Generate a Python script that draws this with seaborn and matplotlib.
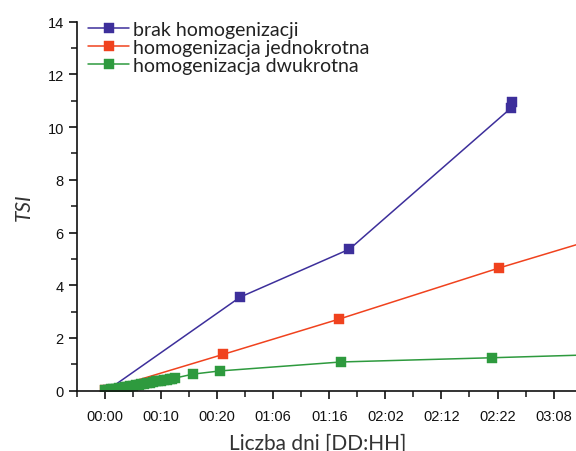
import matplotlib
matplotlib.use("Agg")
import matplotlib.pyplot as plt
import seaborn as sns
import pandas as pd
from matplotlib.ticker import MultipleLocator, FixedLocator

sns.set_style("ticks")
plt.rcParams['font.family'] = ['Liberation Sans', 'DejaVu Sans']

# hours since start
blue_x = [0.5, 24.1, 43.6, 72.4, 72.5]
blue_y = [0.03, 3.55, 5.37, 10.72, 10.95]

red_x = [0.0, 21.1, 41.8, 70.2, 96.0]
red_y = [0.03, 1.38, 2.72, 4.65, 6.30]

green_x = [0.0, 0.5, 1.0, 1.5, 2.0, 2.5, 3.0, 3.5, 4.0, 4.5, 5.0, 5.5, 6.0, 6.5,
           7.0, 7.5, 8.0, 8.5, 9.0, 9.5, 10.0, 10.5, 11.0, 11.5, 12.0, 12.5,
           15.7, 20.5, 42.1, 69.0, 96.0]
green_y = [0.02, 0.04, 0.05, 0.07, 0.08, 0.10, 0.12, 0.13, 0.15, 0.17, 0.19, 0.21,
           0.23, 0.25, 0.27, 0.29, 0.31, 0.33, 0.35, 0.36, 0.38, 0.40, 0.42, 0.44,
           0.46, 0.48, 0.63, 0.75, 1.09, 1.25, 1.42]

labels = ["brak homogenizacji", "homogenizacja jednokrotna", "homogenizacja dwukrotna"]
colors = ["#3d2f9b", "#f0421e", "#2e9a3e"]
xtick_pos = [0, 10, 20, 30, 40, 50, 60, 70, 80]
xtick_labels = ["00:00", "00:10", "00:20", "01:06", "01:16", "02:02", "02:12", "02:22", "03:08"]

fig = plt.figure(figsize=(5.76, 4.52), dpi=100)
ax = fig.add_axes([0.1337, 0.1334, 0.8663, 0.8166])

series = [(blue_x, blue_y), (red_x, red_y), (green_x, green_y)]
for (xs, ys), lab, col in zip(series, labels, colors):
    df = pd.DataFrame({"x": xs, "y": ys})
    sns.lineplot(data=df, x="x", y="y", ax=ax, sort=False, estimator=None,
                 color=col, linewidth=1.1, marker="s", markersize=6.8,
                 markeredgecolor=col, markeredgewidth=0.3, label=lab)

ax.set_xlim(-5, 84)
ax.set_ylim(0, 14)
ax.xaxis.set_major_locator(FixedLocator(xtick_pos))
ax.set_xticklabels(xtick_labels)
ax.xaxis.set_minor_locator(FixedLocator([-5, 5, 15, 25, 35, 45, 55, 65, 75]))
ax.yaxis.set_major_locator(MultipleLocator(2))
ax.yaxis.set_minor_locator(MultipleLocator(1))
ax.tick_params(axis="both", which="major", direction="out", length=6, width=1.2,
               labelsize=10.5, colors="#111111")
ax.tick_params(axis="both", which="minor", direction="out", length=4, width=1.2)
ax.tick_params(axis="x", pad=7)

for s in ["top", "right"]:
    ax.spines[s].set_visible(False)
for s in ["left", "bottom"]:
    ax.spines[s].set_linewidth(1.2)
    ax.spines[s].set_color("#111111")

ax.set_xlabel("Liczba dni [DD:HH]", family=["Lato", "DejaVu Sans"], fontsize=15,
              color="#333333", labelpad=7)
ax.xaxis.label.set_x(0.482)
ax.set_ylabel("TSI", family=["Lato", "DejaVu Sans"], fontsize=15, style="italic",
              color="#333333", labelpad=10)

leg = ax.legend(loc="upper left", bbox_to_anchor=(0.153, 0.952),
                bbox_transform=fig.transFigure, frameon=False,
                prop={"family": ["Lato", "DejaVu Sans"], "size": 14},
                handlelength=2.1, handletextpad=0.2, labelspacing=0.06,
                borderaxespad=0, borderpad=0)
for t in leg.get_texts():
    t.set_color("#222222")

fig.savefig("out.png", dpi=100)
